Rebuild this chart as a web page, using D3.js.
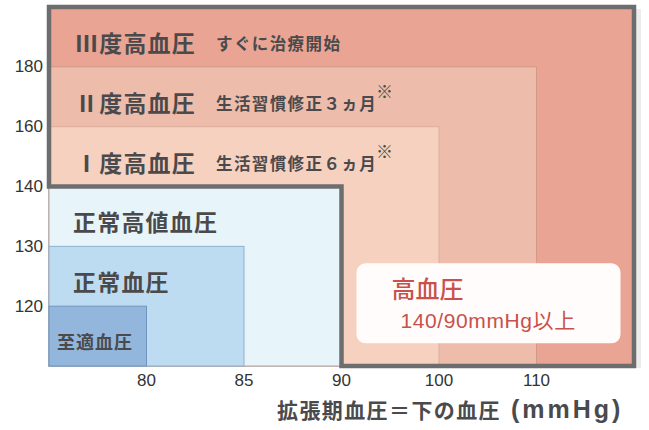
<!DOCTYPE html>
<html>
<head>
<meta charset="utf-8">
<script src="https://cdn.jsdelivr.net/npm/d3@7"></script>
<style>
  html, body { margin: 0; padding: 0; background: #ffffff; }
  svg { display: block; }
</style>
</head>
<body>
<div id="chart"></div>
<script>
// data
const xBounds = ["min", 80, 85, 90, 100, 110, "max"];
const yBounds = ["min", 120, 130, 140, 160, 180, "max"];
const xTicks = [80, 85, 90, 100, 110];
const yTicks = [120, 130, 140, 160, 180];

const levels = ["Ⅲ度高血圧", "Ⅱ度高血圧", "Ⅰ度高血圧", "正常高値血圧", "正常血圧", "至適血圧"];
const notes = ["すぐに治療開始", "生活習慣修正３ヵ月", "生活習慣修正６ヵ月", "", "", ""];
const noteMark = [false, true, true, false, false, false];
const diaMax = ["max", 110, 100, 90, 85, 80];
const sysMax = ["max", 180, 160, 140, 130, 120];
const sysMin = [180, 160, 140, 130, 120, "min"];

const hyperTitle = "高血圧";
const hyperSub = "140/90mmHg以上";
const xTitle = "拡張期血圧＝下の血圧";
const xUnit = " (mmHg)";

// styles
const fills = ["#e9a493", "#eebcab", "#f6d1bf", "#e7f5fb", "#bedcf1", "#93b6dd"];
const edges = ["#c98a7c", "#d39a8a", "#dcae9c", "#9fb3c2", "#8fb0cc", "#7195c0"];
const textCol = "#4a4a4c";
const borderCol = "#6d6d70";
const redCol = "#c8514b";
const jp = "'Noto Sans CJK JP', 'Noto Sans', sans-serif";
const num = "'Liberation Sans', 'Noto Sans CJK JP', sans-serif";

const width = 649, height = 430;

const svg = d3.select("#chart").append("svg")
  .attr("width", width)
  .attr("height", height);

const x = d3.scalePoint().domain(xBounds).range([49, 634]);
const y = d3.scalePoint().domain(yBounds).range([366, 7]);

// shadow on the right
svg.append("rect")
  .attr("x", x("max") + 2).attr("y", y("max") + 2)
  .attr("width", 5).attr("height", y("min") - y("max"))
  .attr("fill", "#ececec");

// nested boxes
const boxes = svg.append("g");
levels.forEach((name, i) => {
  boxes.append("rect")
    .attr("x", x("min"))
    .attr("y", y(sysMax[i]))
    .attr("width", x(diaMax[i]) - x("min"))
    .attr("height", y("min") - y(sysMax[i]))
    .attr("fill", fills[i])
    .attr("stroke", edges[i])
    .attr("stroke-width", 1);
});

// thick outline of the hypertension region
const outline = [
  [x("min"), y("max")], [x("max"), y("max")], [x("max"), y("min")],
  [x(90), y("min")], [x(90), y(140)], [x("min"), y(140)]
];
svg.append("path")
  .attr("d", d3.line()(outline) + "Z")
  .attr("fill", "none")
  .attr("stroke", borderCol)
  .attr("stroke-width", 4.5)
  .attr("stroke-linejoin", "miter");

// category labels
const labels = svg.append("g");
levels.forEach((name, i) => {
  const cy = (y(sysMax[i]) + y(sysMin[i])) / 2 + 5;
  const big = i < 5;
  const lx = x("min") + (i < 3 ? 26 : (i < 5 ? 24 : 8));
  labels.append("text")
    .attr("x", lx)
    .attr("y", cy)
    .attr("dominant-baseline", "central")
    .attr("fill", textCol)
    .style("font-family", jp)
    .style("font-weight", 700)
    .style("font-size", big ? "23px" : "18px")
    .style("letter-spacing", big ? "1.2px" : "1px")
    .text(name);
  if (notes[i]) {
    const t = labels.append("text")
      .attr("x", x("min") + 167)
      .attr("y", cy + 1)
      .attr("dominant-baseline", "central")
      .attr("fill", textCol)
      .style("font-family", jp)
      .style("font-weight", 700)
      .style("font-size", "16.5px")
      .style("letter-spacing", "1.4px")
      .text(notes[i]);
    if (noteMark[i]) {
      t.append("tspan")
        .attr("dy", -13)
        .attr("dx", -1)
        .style("font-size", "17px")
        .text("※");
    }
  }
});

// hypertension info box
const info = svg.append("g");
info.append("rect")
  .attr("x", x(90) + 15)
  .attr("y", y(130) + 17)
  .attr("width", 264)
  .attr("height", 80)
  .attr("rx", 9)
  .attr("fill", "#fffcfb");
info.append("text")
  .attr("x", x(90) + 50)
  .attr("y", y(130) + 52)
  .attr("fill", redCol)
  .style("font-family", jp)
  .style("font-weight", 500)
  .style("font-size", "24px")
  .text(hyperTitle);
info.append("text")
  .attr("x", x(90) + 59)
  .attr("y", y(130) + 82)
  .attr("fill", redCol)
  .style("font-family", num)
  .style("font-size", "21px")
  .style("letter-spacing", "0.6px")
  .text(hyperSub);

// axes
const xAxis = svg.append("g")
  .attr("transform", `translate(0,${y("min") + 14})`);
xAxis.selectAll("text")
  .data(xTicks)
  .join("text")
  .attr("x", d => x(d))
  .attr("y", 0)
  .attr("text-anchor", "middle")
  .attr("dominant-baseline", "central")
  .attr("fill", "#333")
  .style("font-family", num)
  .style("font-size", "17px")
  .text(d => d);

const yAxis = svg.append("g");
yAxis.selectAll("text")
  .data(yTicks)
  .join("text")
  .attr("x", x("min") - 6)
  .attr("y", d => y(d))
  .attr("text-anchor", "end")
  .attr("dominant-baseline", "central")
  .attr("fill", "#333")
  .style("font-family", num)
  .style("font-size", "17px")
  .text(d => d);

const title = svg.append("text")
  .attr("x", 277)
  .attr("y", 418)
  .attr("fill", textCol)
  .style("font-family", jp)
  .style("font-weight", 700)
  .style("font-size", "21px")
  .style("letter-spacing", "1.4px")
  .text(xTitle);
title.append("tspan")
  .style("font-family", num)
  .style("font-size", "25px")
  .style("letter-spacing", "3px")
  .text(xUnit);
</script>
</body>
</html>
